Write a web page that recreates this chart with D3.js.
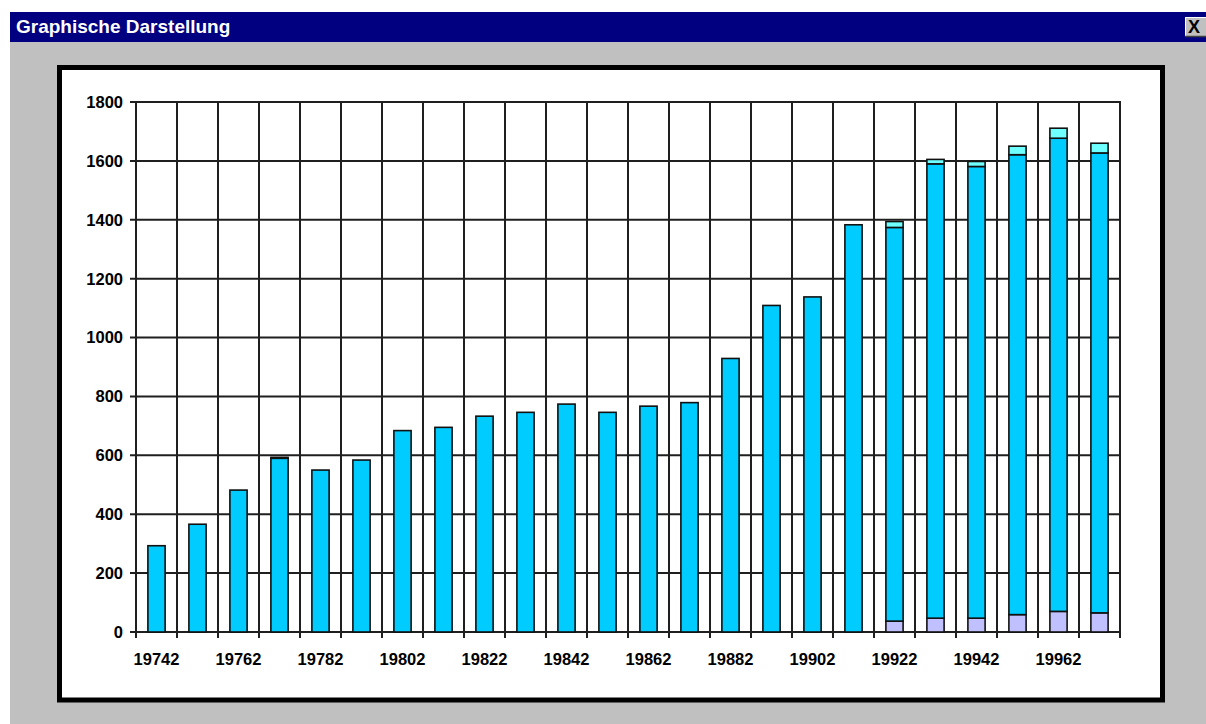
<!DOCTYPE html>
<html>
<head>
<meta charset="utf-8">
<script src="https://cdn.jsdelivr.net/npm/d3@7"></script>
<style>
html,body{margin:0;padding:0;background:#fff;overflow:hidden;}
svg{display:block;}
</style>
</head>
<body>
<svg id="chart" width="1206" height="724"></svg>
<script>
// ---- data ----
const title = "Graphische Darstellung";
const years = ["1974","1975","1976","1977","1978","1979","1980","1981","1982","1983","1984","1985",
               "1986","1987","1988","1989","1990","1991","1992","1993","1994","1995","1996","1997"];
const bottomSeries = [0,0,0,0,0,0,0,0,0,0,0,0,0,0,0,0,0,0,37,47,47,59,70,65];
const middleSeries = [293,366,482,590,550,584,684,695,733,746,774,746,767,779,929,1109,1138,1383,1337,1543,1534,1562,1607,1562];
const topSeries    = [0,0,0,3,0,0,0,0,0,0,0,0,0,0,0,0,0,0,20,15,17,29,34,33];
const yTicks = [0,200,400,600,800,1000,1200,1400,1600,1800];
const xTickLabels = ["19742","19762","19782","19802","19822","19842","19862","19882","19902","19922","19942","19962"];
const xTickYears  = ["1974","1976","1978","1980","1982","1984","1986","1988","1990","1992","1994","1996"];

const svg = d3.select("#chart");

// window chrome
svg.append("rect").attr("x",10).attr("y",41).attr("width",1196).attr("height",683).attr("fill","#c0c0c0");
svg.append("rect").attr("x",10).attr("y",12).attr("width",1196).attr("height",30).attr("fill","#000080");
svg.append("text").attr("x",16).attr("y",33).text(title)
  .attr("fill","#fff").attr("font-family","Liberation Sans, Arial, sans-serif")
  .attr("font-weight","bold").attr("font-size",19);
// close button
const cb = svg.append("g");
cb.append("rect").attr("x",1185).attr("y",17).attr("width",24).attr("height",20).attr("fill","#c0c0c0");
cb.append("path").attr("d","M1185.5,37 V17.5 H1209").attr("stroke","#fff").attr("fill","none");
cb.append("path").attr("d","M1185,36.5 H1209").attr("stroke","#404040").attr("fill","none").attr("stroke-width",1.5);
cb.append("text").attr("x",1188).attr("y",33).text("X").attr("font-family","Liberation Sans, Arial, sans-serif")
  .attr("font-weight","bold").attr("font-size",18).attr("fill","#000");

// panel
svg.append("rect").attr("x",59.5).attr("y",67.5).attr("width",1103).attr("height",632.5)
  .attr("fill","#fff").attr("stroke","#000").attr("stroke-width",5);

// scales
const x = d3.scaleBand().domain(years).range([136,1120]).padding(0);
const y = d3.scaleLinear().domain([0,1800]).range([632,102]);
const barW = x.bandwidth()*0.42;

const gridColor = "#1f1f1f";
const grid = svg.append("g");
// horizontal grid lines + left ticks
grid.selectAll("line.h").data(yTicks).join("line")
  .attr("x1",130).attr("x2",x.range()[1]+1)
  .attr("y1",d=>y(d)).attr("y2",d=>y(d))
  .attr("stroke",gridColor).attr("stroke-width",2);
// vertical grid lines (category boundaries) + bottom ticks
const bounds = years.map(d=>x(d)).concat([x.range()[1]]);
grid.selectAll("line.v").data(bounds).join("line")
  .attr("x1",d=>d).attr("x2",d=>d)
  .attr("y1",y(1800)).attr("y2",y(0)+6)
  .attr("stroke",gridColor).attr("stroke-width",2);

// stacked bars
const rows = years.map((yr,i)=>({year:yr,bottom:bottomSeries[i],middle:middleSeries[i],top:topSeries[i]}));
const stack = d3.stack().keys(["bottom","middle","top"])(rows);
const colors = {bottom:"#c0c0ff",middle:"#00ccff",top:"#70ffff"};
stack.forEach(layer=>{
  svg.append("g").selectAll("rect").data(layer.filter(d=>d[1]-d[0]>0)).join("rect")
    .attr("x",d=>x(d.data.year)+(x.bandwidth()-barW)/2)
    .attr("width",barW)
    .attr("y",d=>y(d[1]))
    .attr("height",d=>y(d[0])-y(d[1]))
    .attr("fill",colors[layer.key])
    .attr("stroke","#111").attr("stroke-width",1.6);
});

// axis labels
const font = "Liberation Sans, Arial, sans-serif";
svg.append("g").selectAll("text").data(yTicks).join("text")
  .attr("x",123).attr("y",d=>y(d)).attr("dy","0.36em")
  .attr("text-anchor","end").attr("font-family",font).attr("font-weight","bold").attr("font-size",16.5)
  .text(d=>d);
svg.append("g").selectAll("text").data(xTickYears).join("text")
  .attr("x",d=>x(d)+x.bandwidth()/2).attr("y",665)
  .attr("text-anchor","middle").attr("font-family",font).attr("font-weight","bold").attr("font-size",16.5)
  .text((d,i)=>xTickLabels[i]);
</script>
</body>
</html>
